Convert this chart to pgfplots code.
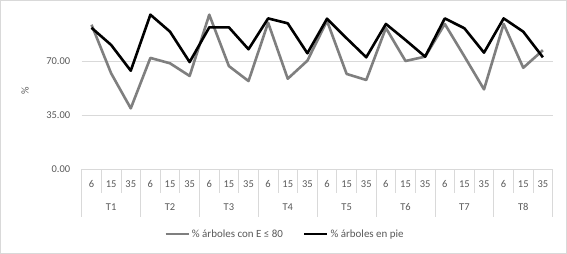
\documentclass[border=0pt]{standalone}
\usepackage{pgfplots}
\pgfplotsset{compat=1.18}
\usepackage{fontspec}
\setmainfont{Carlito}
\definecolor{txt}{HTML}{595959}
\definecolor{gridc}{HTML}{D9D9D9}
\definecolor{ser1}{HTML}{7F7F7F}
\begin{document}
\begin{tikzpicture}
\useasboundingbox (0,0) rectangle (567bp,254bp);
\fill[white] (0,0) rectangle (567bp,254bp);
\begin{axis}[
  at={(81.7bp,85bp)}, anchor=south west,
  scale only axis, width=471bp, height=154.3bp,
  xmin=-0.5, xmax=23.5, ymin=0, ymax=100,
  clip=false,
  axis line style={draw=none},
  ytick={0,35,70}, ymajorgrids, grid style={gridc, line width=0.75bp},
  major tick length=0,
  /pgf/number format/assume math mode=true,
  font=\fontsize{10.5}{12}\selectfont,
  tick label style={text=txt},
  yticklabel style={/pgf/number format/fixed, /pgf/number format/fixed zerofill, /pgf/number format/precision=2, anchor=east, xshift=-8bp},
  xtick={0,...,23},
  xticklabels={6,15,35,6,15,35,6,15,35,6,15,35,6,15,35,6,15,35,6,15,35,6,15,35},
  xticklabel style={anchor=center, yshift=-15bp},
  extra x ticks={1,4,7,10,13,16,19,22},
  extra x tick labels={T1,T2,T3,T4,T5,T6,T7,T8},
  extra x tick style={grid=none, xticklabel style={yshift=-23bp}},
  ylabel={\%},
  ylabel style={at={(axis description cs:-0.1204,0.507)}, anchor=center, text=txt, font=\fontsize{10.5}{12}\selectfont},
  legend columns=2,
  legend style={at={(axis description cs:0.4316,-0.421)}, anchor=center, draw=none, fill=none, text=txt,
    font=\fontsize{11}{12}\selectfont, inner sep=0pt,
    /tikz/every even column/.append style={column sep=18bp}},
  legend image code/.code={\draw[#1] (0bp,0bp) -- (23bp,0bp);},
]
\pgfplotsinvokeforeach{-0.5,0.5,...,23.5}{\draw[gridc, line width=0.75bp] (axis cs:#1,0) -- ++(0bp,-24bp);}
\pgfplotsinvokeforeach{-0.5,2.5,5.5,8.5,11.5,14.5,17.5,20.5,23.5}{\draw[gridc, line width=0.75bp] (axis cs:#1,0) -- ++(0bp,-47.7bp);}
\addplot[ser1, line width=2.6bp, line join=round] coordinates {
(0,93.5) (1,62) (2,39.3)
(3,72) (4,68.5) (5,60.3)
(6,100) (7,66.7) (8,57)
(9,94.8) (10,58.5) (11,70.2)
(12,96) (13,61.6) (14,57.7)
(15,91.4) (16,70) (17,72.8)
(18,94) (19,73) (20,51.6)
(21,94) (22,65.6) (23,77)
};
\addlegendentry{\% árboles con E ≤ 80}
\addplot[black, line width=2.6bp, line join=round] coordinates {
(0,91.5) (1,80.4) (2,63.7)
(3,100) (4,89) (5,69.3)
(6,91.8) (7,91.8) (8,77.6)
(9,97.6) (10,94.4) (11,75)
(12,97.4) (13,84.7) (14,72.4)
(15,94) (16,83.6) (17,72.8)
(18,97.6) (19,91.2) (20,75.4)
(21,97.6) (22,89) (23,72.4)
};
\addlegendentry{\% árboles en pie}
\end{axis}
\draw[gridc, line width=0.75bp] (0.5bp,0.5bp) rectangle (566.5bp,253.5bp);
\end{tikzpicture}
\end{document}
